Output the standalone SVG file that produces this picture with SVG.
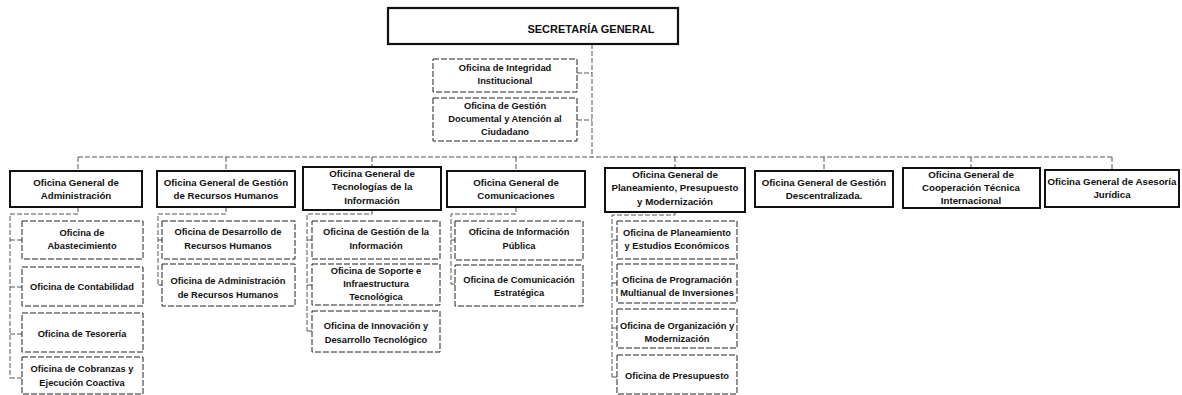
<svg xmlns="http://www.w3.org/2000/svg" width="1182" height="395" viewBox="0 0 1182 395">
<style>
.bg{fill:#fff}
.sg{fill:#fff;stroke:#111;stroke-width:2.2}
.g{fill:#fff;stroke:#111;stroke-width:2}
.s{fill:#fff;stroke:#222;stroke-width:1;stroke-dasharray:6 2}
.c{fill:none;stroke:#555;stroke-width:1;stroke-dasharray:5 2}
.t{font-family:"Liberation Sans",Arial,sans-serif;font-weight:bold;font-size:9.3px;text-anchor:middle;fill:#111}
.tg{font-family:"Liberation Sans",Arial,sans-serif;font-weight:bold;font-size:9.7px;text-anchor:middle;fill:#111}
.th{font-family:"Liberation Sans",Arial,sans-serif;font-weight:bold;font-size:11px;text-anchor:middle;fill:#111}
</style>
<rect class="bg" x="0" y="0" width="1182" height="395"/>

<g id="connectors">
  <path class="c" d="M592 44 V157"/>
  <path class="c" d="M577 73 H592 M577 120 H592"/>
  <path class="c" d="M78 157 H1112"/>
  <path class="c" d="M78 157 V170 M226 157 V170 M372 157 V167 M516 157 V170 M675 157 V168 M824 157 V170 M971 157 V168 M1112 157 V170"/>
  <path class="c" d="M78 207 V214 H10 V378 M10 240 H22 M10 287 H22 M10 334 H22 M10 378 H22"/>
  <path class="c" d="M226 207 V214 H158 V285 M158 240 H162 M158 285 H162"/>
  <path class="c" d="M372 210 V214 H307 V331 M307 240 H312 M307 285 H312 M307 331 H312"/>
  <path class="c" d="M516 207 V214 H451 V284 M451 240 H455 M451 284 H455"/>
  <path class="c" d="M675 212 V215 H612 V377 M612 240 H617 M612 283 H617 M612 328 H617 M612 377 H617"/>
</g>

<g id="n-sg">
  <rect class="sg" x="388" y="8" width="290" height="36"/>
  <text class="th" x="591" y="33">SECRETARÍA GENERAL</text>
</g>

<g id="n-integridad">
  <rect class="s" x="433" y="59" width="144" height="33"/>
  <text class="t" x="505" y="71">Oficina de Integridad</text>
  <text class="t" x="505" y="84">Institucional</text>
</g>
<g id="n-gestion-documental">
  <rect class="s" x="433" y="98" width="144" height="43"/>
  <text class="t" x="505" y="109">Oficina de Gestión</text>
  <text class="t" x="505" y="122">Documental y Atención al</text>
  <text class="t" x="505" y="135">Ciudadano</text>
</g>

<g id="n-og-administracion">
  <rect class="g" x="10" y="171" width="132" height="36"/>
  <text class="tg" x="76" y="186">Oficina General de</text>
  <text class="tg" x="76" y="199">Administración</text>
</g>
<g id="n-og-rrhh">
  <rect class="g" x="157" y="171" width="138" height="36"/>
  <text class="tg" x="226" y="186">Oficina General de Gestión</text>
  <text class="tg" x="226" y="199">de Recursos Humanos</text>
</g>
<g id="n-og-tecnologias">
  <rect class="g" x="303" y="167" width="138" height="43"/>
  <text class="tg" x="372" y="177">Oficina General de</text>
  <text class="tg" x="372" y="190">Tecnologías de la</text>
  <text class="tg" x="372" y="204">Información</text>
</g>
<g id="n-og-comunicaciones">
  <rect class="g" x="447" y="171" width="138" height="36"/>
  <text class="tg" x="516" y="186">Oficina General de</text>
  <text class="tg" x="516" y="199">Comunicaciones</text>
</g>
<g id="n-og-planeamiento">
  <rect class="g" x="605" y="168" width="140" height="44"/>
  <text class="tg" x="675" y="178">Oficina General de</text>
  <text class="tg" x="675" y="191">Planeamiento, Presupuesto</text>
  <text class="tg" x="675" y="205">y Modernización</text>
</g>
<g id="n-og-descentralizada">
  <rect class="g" x="755" y="171" width="138" height="36"/>
  <text class="tg" x="824" y="186">Oficina General de Gestión</text>
  <text class="tg" x="824" y="199">Descentralizada.</text>
</g>
<g id="n-og-cooperacion">
  <rect class="g" x="903" y="168" width="137" height="40"/>
  <text class="tg" x="971" y="178">Oficina General de</text>
  <text class="tg" x="971" y="191">Cooperación Técnica</text>
  <text class="tg" x="971" y="204">Internacional</text>
</g>
<g id="n-og-asesoria">
  <rect class="g" x="1045" y="170" width="134" height="37"/>
  <text class="tg" x="1112" y="185">Oficina General de Asesoría</text>
  <text class="tg" x="1112" y="198">Jurídica</text>
</g>

<g id="n-abastecimiento">
  <rect class="s" x="22" y="221" width="121" height="38"/>
  <text class="t" x="82" y="236">Oficina de</text>
  <text class="t" x="82" y="249">Abastecimiento</text>
</g>
<g id="n-contabilidad">
  <rect class="s" x="22" y="267" width="121" height="39"/>
  <text class="t" x="82" y="290">Oficina de Contabilidad</text>
</g>
<g id="n-tesoreria">
  <rect class="s" x="22" y="313" width="121" height="39"/>
  <text class="t" x="82" y="337">Oficina de Tesorería</text>
</g>
<g id="n-cobranzas">
  <rect class="s" x="22" y="357" width="121" height="37"/>
  <text class="t" x="82" y="372">Oficina de Cobranzas y</text>
  <text class="t" x="82" y="386">Ejecución Coactiva</text>
</g>

<g id="n-desarrollo-rrhh">
  <rect class="s" x="162" y="221" width="133" height="38"/>
  <text class="t" x="228" y="235">Oficina de Desarrollo de</text>
  <text class="t" x="228" y="249">Recursos Humanos</text>
</g>
<g id="n-administracion-rrhh">
  <rect class="s" x="162" y="264" width="133" height="42"/>
  <text class="t" x="228" y="284">Oficina de Administración</text>
  <text class="t" x="228" y="298">de Recursos Humanos</text>
</g>

<g id="n-gestion-informacion">
  <rect class="s" x="312" y="221" width="128" height="38"/>
  <text class="t" x="376" y="235">Oficina de Gestión de la</text>
  <text class="t" x="376" y="249">Información</text>
</g>
<g id="n-soporte">
  <rect class="s" x="312" y="264" width="128" height="41"/>
  <text class="t" x="376" y="274">Oficina de Soporte e</text>
  <text class="t" x="376" y="287">Infraestructura</text>
  <text class="t" x="376" y="300">Tecnológica</text>
</g>
<g id="n-innovacion">
  <rect class="s" x="312" y="311" width="128" height="41"/>
  <text class="t" x="376" y="329">Oficina de Innovación y</text>
  <text class="t" x="376" y="343">Desarrollo Tecnológico</text>
</g>

<g id="n-informacion-publica">
  <rect class="s" x="455" y="221" width="128" height="39"/>
  <text class="t" x="519" y="235">Oficina de Información</text>
  <text class="t" x="519" y="249">Pública</text>
</g>
<g id="n-comunicacion-estrategica">
  <rect class="s" x="455" y="265" width="128" height="41"/>
  <text class="t" x="519" y="283">Oficina de Comunicación</text>
  <text class="t" x="519" y="296">Estratégica</text>
</g>

<g id="n-planeamiento-estudios">
  <rect class="s" x="617" y="221" width="120" height="38"/>
  <text class="t" x="677" y="236">Oficina de Planeamiento</text>
  <text class="t" x="677" y="249">y Estudios Económicos</text>
</g>
<g id="n-programacion">
  <rect class="s" x="617" y="264" width="120" height="39"/>
  <text class="t" x="677" y="283">Oficina de Programación</text>
  <text class="t" x="677" y="296">Multianual de Inversiones</text>
</g>
<g id="n-organizacion">
  <rect class="s" x="617" y="309" width="120" height="39"/>
  <text class="t" x="677" y="329">Oficina de Organización y</text>
  <text class="t" x="677" y="342">Modernización</text>
</g>
<g id="n-presupuesto">
  <rect class="s" x="617" y="355" width="120" height="39"/>
  <text class="t" x="677" y="379">Oficina de Presupuesto</text>
</g>
</svg>
